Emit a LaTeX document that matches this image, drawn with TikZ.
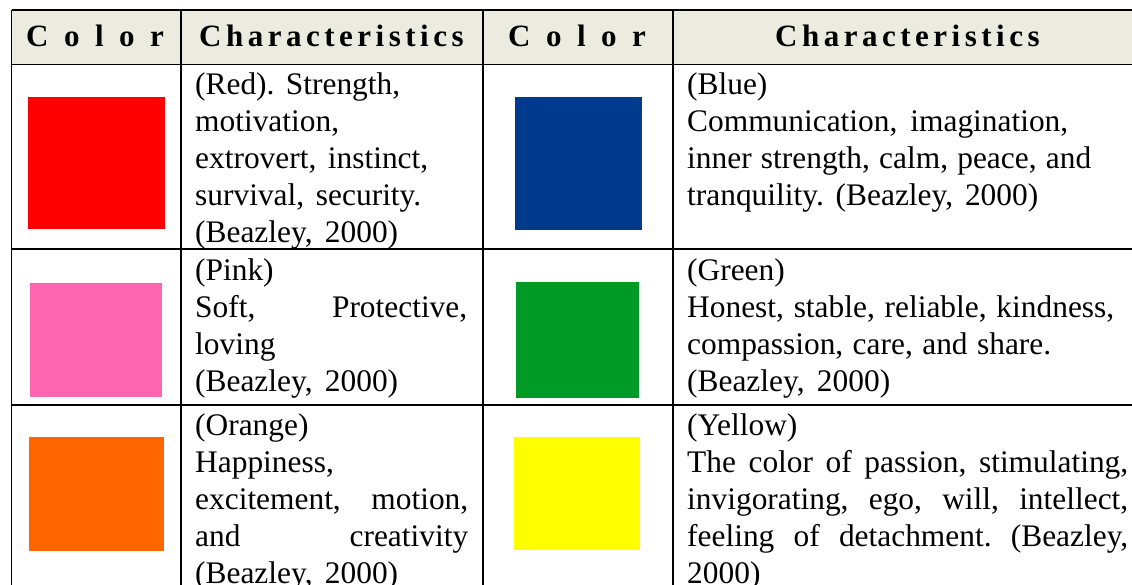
\documentclass[tikz,border=0pt]{standalone}
\usepackage{fontspec}
\setmainfont{Liberation Serif}
\definecolor{headbg}{HTML}{ECEBE0}
\definecolor{cred}{HTML}{FF0000}
\definecolor{cblue}{HTML}{003A8C}
\definecolor{cpink}{HTML}{FF66B0}
\definecolor{cgreen}{HTML}{009B26}
\definecolor{corange}{HTML}{FF6600}
\definecolor{cyellow}{HTML}{FFFF00}
\newcommand{\fit}[2]{\leavevmode\hbox to #1pt{\spaceskip=0.25em plus 1fil minus 0.2em\relax #2}}
\tikzset{
  x=1pt,y=-1pt,
  rule/.style={line width=1.8pt,black},
  headtxt/.style={font=\fontsize{31}{31}\selectfont\bfseries,anchor=base west,inner sep=0pt},
  celltxt/.style={font=\fontsize{31.4}{37}\selectfont\frenchspacing,anchor=north west,inner sep=0pt,align=left}
}
\begin{document}
\begin{tikzpicture}
\useasboundingbox (0,0) rectangle (1132,585);
\fill[headbg] (12,11) rectangle (1132,64);
\fill[cred] (27.5,97) rectangle (165,229.5);
\fill[cblue] (515,97) rectangle (642,230);
\fill[cpink] (29.5,283) rectangle (162,397);
\fill[cgreen] (516,282.5) rectangle (638.5,398);
\fill[corange] (29,437) rectangle (163.5,551);
\fill[cyellow] (514,437) rectangle (640,550);
\draw[rule] (11.5,10.3) -- (1132,10.3);
\draw[rule] (11.5,64.5) -- (1132,64.5);
\draw[rule] (11.5,249.3) -- (1132,249.3);
\draw[rule] (11.5,405) -- (1132,405);
\foreach \x in {11.5,181,483,673} \draw[rule] (\x,10) -- (\x,585);
\node[headtxt] (h1) at (26,47) {\addfontfeatures{LetterSpace=50}Color};
\node[headtxt] (h2) at (199,47) {\addfontfeatures{LetterSpace=14.5}Characteristics};
\node[headtxt] (h3) at (508,47) {\addfontfeatures{LetterSpace=50}Color};
\node[headtxt] (h4) at (775,47) {\addfontfeatures{LetterSpace=14.5}Characteristics};
\node[celltxt,text width=273pt] (t1) at (195,73) {\fit{205}{(Red). Strength,}\\motivation,\\\fit{233}{extrovert, instinct,}\\\fit{226}{survival, security.}\\\fit{203}{(Beazley, 2000)}};
\node[celltxt,text width=441pt] (t2) at (687,73) {(Blue)\\\fit{381}{Communication, imagination,}\\\fit{404}{inner strength, calm, peace, and}\\\fit{351}{tranquility. (Beazley, 2000)}};
\node[celltxt,text width=273pt] (t3) at (195,259) {(Pink)\\\fit{272}{Soft,\hfill Protective,}\\loving\\\fit{203}{(Beazley, 2000)}};
\node[celltxt,text width=441pt] (t4) at (687,259) {(Green)\\\fit{427}{Honest, stable, reliable, kindness,}\\\fit{364}{compassion, care, and share.}\\\fit{203}{(Beazley, 2000)}};
\node[celltxt,text width=273pt] (t5) at (195,413.3) {(Orange)\\Happiness,\\\fit{273}{excitement,\hfill motion,}\\\fit{273}{and\hfill creativity}\\\fit{203}{(Beazley, 2000)}};
\node[celltxt,text width=441pt] (t6) at (687,413.3) {(Yellow)\\\fit{441}{The color of passion, stimulating,}\\\fit{441}{invigorating, ego, will, intellect,}\\\fit{441}{feeling of detachment. (Beazley,}\\2000)};
\end{tikzpicture}
\end{document}
